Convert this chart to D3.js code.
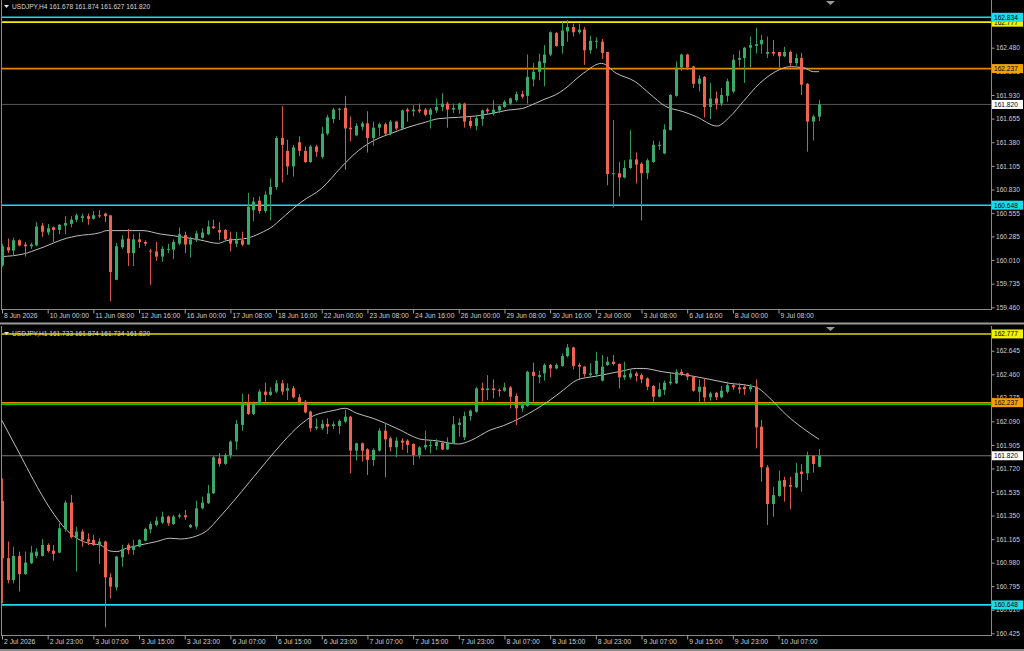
<!DOCTYPE html>
<html><head><meta charset="utf-8">
<script src="https://cdn.jsdelivr.net/npm/d3@7"></script>
<style>
html,body{margin:0;padding:0;background:#000;overflow:hidden}
svg{display:block}
text{font-family:"Liberation Sans",Arial,sans-serif}
</style></head>
<body>
<svg id="c" width="1024" height="651"></svg>
<script>
// ---------------- DATA ----------------
const h4Title = "USDJPY,H4  161.678 161.874 161.627 161.820";
const h1Title = "USDJPY,H1  161.733 161.874 161.734 161.820";

// H4 candles: [open, high, low, close]
const h4Ohlc = [
[159.95,160.20,159.93,160.17],[160.16,160.26,160.09,160.12],[160.12,160.27,160.06,160.24],[160.24,160.25,160.17,160.18],
[160.19,160.22,160.05,160.17],[160.17,160.21,160.14,160.19],[160.18,160.45,160.17,160.40],[160.41,160.44,160.28,160.34],
[160.33,160.43,160.30,160.38],[160.39,160.40,160.22,160.36],[160.36,160.43,160.31,160.42],[160.41,160.52,160.31,160.44],
[160.43,160.52,160.39,160.48],[160.48,160.55,160.45,160.53],[160.50,160.55,160.45,160.52],[160.52,160.55,160.42,160.49],
[160.49,160.58,160.48,160.53],[160.53,160.59,160.50,160.52],[160.55,160.56,160.45,160.52],[160.53,160.53,159.53,159.87],
[159.78,160.21,159.78,160.17],[160.16,160.30,160.14,160.25],[160.26,160.37,159.94,160.09],[160.09,160.31,159.94,160.25],
[160.25,160.33,160.15,160.22],[160.22,160.24,160.17,160.20],[160.12,160.14,159.72,160.11],[160.11,160.22,160.00,160.05],
[160.05,160.17,159.99,160.14],[160.13,160.20,160.09,160.14],[160.13,160.25,160.02,160.22],[160.20,160.39,160.18,160.31],
[160.30,160.34,160.09,160.19],[160.19,160.28,160.04,160.25],[160.24,160.35,160.22,160.32],[160.27,160.38,160.26,160.33],
[160.31,160.47,160.30,160.40],[160.40,160.48,160.37,160.38],[160.36,160.45,160.24,160.33],[160.36,160.37,160.24,160.25],
[160.26,160.34,160.11,160.20],[160.20,160.34,160.16,160.24],[160.24,160.34,160.17,160.19],[160.19,160.79,160.19,160.63],
[160.59,160.74,160.46,160.69],[160.70,160.75,160.55,160.58],[160.58,160.81,160.56,160.77],[160.77,160.96,160.47,160.86],
[160.86,161.45,160.83,161.43],[161.43,161.80,160.91,161.35],[161.28,161.41,161.00,161.10],[161.10,161.35,160.98,161.32],
[161.38,161.45,161.22,161.28],[161.28,161.33,161.14,161.15],[161.15,161.35,161.14,161.33],[161.33,161.35,161.21,161.27],
[161.21,161.56,161.19,161.48],[161.48,161.70,161.46,161.67],[161.65,161.78,161.60,161.76],[161.76,161.78,161.64,161.77],
[161.78,161.92,161.06,161.54],[161.55,161.68,161.39,161.53],[161.46,161.60,161.45,161.57],[161.56,161.62,161.52,161.60],
[161.60,161.74,161.26,161.43],[161.43,161.62,161.34,161.55],[161.55,161.61,161.45,161.59],[161.59,161.61,161.46,161.48],
[161.48,161.64,161.46,161.62],[161.62,161.63,161.52,161.54],[161.54,161.76,161.53,161.75],[161.76,161.78,161.62,161.74],
[161.74,161.81,161.68,161.76],[161.76,161.83,161.72,161.74],[161.76,161.78,161.68,161.70],[161.70,161.78,161.54,161.76],
[161.75,161.89,161.72,161.79],[161.79,161.95,161.74,161.83],[161.83,161.85,161.55,161.76],[161.76,161.83,161.72,161.78],
[161.76,161.84,161.71,161.83],[161.83,161.84,161.55,161.62],[161.63,161.68,161.54,161.57],[161.57,161.70,161.52,161.66],
[161.65,161.76,161.57,161.75],[161.76,161.78,161.71,161.74],[161.71,161.87,161.69,161.76],[161.75,161.81,161.72,161.80],
[161.79,161.87,161.78,161.85],[161.83,161.90,161.81,161.89],[161.87,161.97,161.85,161.94],[161.94,161.98,161.89,161.91],
[161.92,162.40,161.83,162.14],[162.11,162.30,162.03,162.20],[162.20,162.41,162.10,162.32],[162.30,162.51,162.03,162.40],
[162.40,162.67,162.38,162.66],[162.65,162.66,162.49,162.50],[162.50,162.78,162.41,162.68],[162.67,162.80,162.55,162.72],
[162.72,162.76,162.61,162.66],[162.66,162.76,162.64,162.69],[162.69,162.72,162.28,162.45],[162.45,162.62,162.41,162.56],
[162.55,162.60,162.47,162.56],[162.55,162.58,162.35,162.42],[162.43,162.43,160.88,161.01],[161.015,161.64,160.62,161.02],
[161.02,161.15,160.75,160.97],[160.97,161.17,160.96,161.08],[161.08,161.52,161.07,161.18],[161.18,161.26,160.90,161.12],
[161.13,161.15,160.47,161.02],[161.02,161.19,160.95,161.17],[161.15,161.40,161.14,161.35],[161.345,161.39,161.29,161.35],
[161.25,161.59,161.24,161.53],[161.52,161.94,161.52,161.93],[161.92,162.32,161.91,162.25],[162.25,162.41,162.21,162.40],
[162.40,162.41,162.22,162.25],[162.26,162.27,162.01,162.06],[162.06,162.16,161.97,162.12],[162.14,162.15,161.67,161.79],
[161.79,162.07,161.65,161.89],[161.89,161.97,161.76,161.83],[161.83,162.01,161.80,161.93],[161.92,162.12,161.85,162.09],
[161.97,162.40,161.95,162.34],[162.34,162.45,162.26,162.36],[162.36,162.49,162.07,162.48],[162.48,162.61,162.25,162.51],
[162.50,162.71,162.41,162.52],[162.52,162.63,162.41,162.57],[162.41,162.61,162.36,162.43],[162.43,162.57,162.38,162.41],
[162.43,162.43,162.25,162.38],[162.38,162.49,162.37,162.43],[162.43,162.45,162.26,162.30],[162.30,162.41,162.27,162.36],
[162.36,162.42,161.93,162.05],[162.06,162.07,161.27,161.62],[161.62,161.70,161.40,161.68],[161.678,161.874,161.627,161.820]
];

// H4 moving average read at bar positions: [bar, value]
const h4Ma = [
[0,160.05],[3.7,160.08],[6.7,160.146],[11.3,160.263],[13.1,160.29],[17.2,160.328],[18.3,160.352],[24.7,160.352],
[27.7,160.313],[30,160.293],[34.7,160.243],[37.9,160.204],[39.3,160.235],[42.9,160.263],[45.2,160.321],[47.5,160.406],
[48.7,160.476],[52.5,160.689],[56,160.844],[59.5,161.096],[62.4,161.282],[65.3,161.406],[68.2,161.484],[71.1,161.554],
[74.1,161.612],[76.4,161.654],[79.9,161.670],[82.9,161.685],[85.8,161.716],[88.7,161.755],[91,161.771],[93.4,161.833],
[95.1,161.883],[96.9,161.930],[98.3,161.988],[101.8,162.182],[105,162.298],[107.6,162.182],[110.9,162.085],[113.5,161.941],
[116.1,161.802],[119.3,161.736],[121.6,161.678],[125.2,161.569],[127.5,161.678],[129.8,161.852],[132.7,162.065],
[136.3,162.228],[138,162.259],[140.4,162.248],[142.1,162.201],[143.1,162.201]
];

// H1 candles: [open, high, low, close]
const h1Ohlc = [
[161.465,161.643,160.661,161.015],[161.015,161.146,160.818,160.844],[160.844,161.106,160.818,161.033],[161.033,161.067,160.753,160.891],
[160.891,161.067,160.884,160.981],[160.975,161.112,160.970,161.059],[161.033,161.093,161.015,161.067],[161.033,161.164,161.028,161.119],
[161.119,161.132,161.059,161.072],[161.075,161.119,160.996,161.049],[161.059,161.290,161.054,161.250],[161.244,161.468,161.224,161.452],
[161.452,161.512,161.172,161.180],[161.177,161.263,160.910,161.224],[161.224,161.242,161.106,161.159],[161.164,161.211,161.119,161.146],
[161.159,161.198,161.112,161.119],[161.119,161.172,160.970,161.146],[161.146,161.153,160.472,160.865],[160.865,160.897,160.700,160.792],
[160.786,161.033,160.761,161.028],[161.022,161.119,160.949,161.085],[161.119,161.132,161.046,161.080],[161.080,161.159,161.041,161.112],
[161.106,161.164,161.101,161.159],[161.153,161.255,161.146,161.245],[161.242,161.303,161.211,161.284],[161.276,161.342,161.263,161.310],
[161.295,161.381,161.284,161.342],[161.342,161.350,161.269,161.290],[161.284,161.355,161.276,161.342],[161.342,161.368,161.329,161.352],
[161.352,161.394,161.316,161.337],[161.258,161.284,161.250,161.276],[161.263,161.468,161.242,161.407],[161.407,161.499,161.399,161.452],
[161.447,161.591,161.441,161.525],[161.525,161.818,161.520,161.808],[161.800,161.839,161.735,161.756],[161.756,161.839,161.748,161.826],
[161.826,161.939,161.800,161.931],[161.931,162.101,161.866,162.070],[162.062,162.305,162.017,162.232],[162.232,162.305,162.141,162.148],
[162.148,162.245,162.141,162.232],[162.232,162.342,162.227,162.324],[162.324,162.394,162.245,162.298],[162.298,162.358,162.290,162.324],
[162.324,162.415,162.311,162.389],[162.389,162.415,162.298,162.324],[162.332,162.389,162.258,162.350],[162.350,162.368,162.271,162.279],
[162.279,162.305,162.219,162.240],[162.245,162.258,162.154,162.161],[162.167,162.175,162.010,162.036],[162.036,162.114,162.023,162.049],
[162.036,162.101,162.023,162.070],[162.070,162.114,161.991,162.049],[162.054,162.088,162.028,162.067],[162.054,162.106,161.991,162.093],
[162.088,162.180,162.075,162.127],[162.127,162.133,161.682,161.860],[161.860,161.923,161.782,161.918],[161.918,161.923,161.774,161.860],
[161.871,161.879,161.669,161.787],[161.787,161.879,161.740,161.866],[161.860,162.036,161.853,162.017],[162.017,162.075,161.651,161.949],
[161.957,161.970,161.853,161.887],[161.887,161.965,161.808,161.939],[161.939,161.957,161.866,161.923],[161.939,161.949,161.840,161.905],
[161.913,161.918,161.748,161.826],[161.826,161.896,161.799,161.886],[161.886,162.017,161.865,161.904],[161.896,161.943,161.839,161.904],
[161.896,161.949,161.865,161.928],[161.922,161.930,161.865,161.870],[161.870,161.964,161.865,161.922],[161.917,162.132,161.912,162.067],
[162.062,162.114,161.970,162.080],[161.964,162.166,161.943,162.132],[162.132,162.184,162.095,162.174],[162.166,162.362,162.158,162.349],
[162.349,162.394,162.245,162.336],[162.336,162.454,162.258,162.349],[162.349,162.420,162.271,162.336],[162.336,162.349,162.284,162.328],
[162.331,162.394,162.323,162.357],[162.357,162.368,162.192,162.284],[162.289,162.310,162.061,162.192],[162.192,162.245,162.166,162.218],
[162.211,162.488,162.205,162.480],[162.480,162.551,162.245,162.446],[162.438,162.488,162.389,162.454],[162.467,162.546,162.410,162.533],
[162.533,162.541,162.436,162.506],[162.506,162.546,162.499,162.533],[162.525,162.624,162.520,162.603],[162.603,162.698,162.593,162.671],
[162.671,162.677,162.499,162.525],[162.533,162.551,162.420,162.520],[162.520,162.525,162.441,162.462],[162.454,162.546,162.436,162.467],
[162.462,162.637,162.436,162.567],[162.410,162.611,162.404,162.520],[162.533,162.598,162.525,162.559],[162.559,162.611,162.530,162.541],
[162.541,162.546,162.349,162.436],[162.436,162.559,162.415,162.454],[162.436,162.493,162.420,162.467],[162.467,162.480,162.402,162.446],
[162.454,162.467,162.389,162.420],[162.428,162.436,162.336,162.362],[162.368,162.375,162.245,162.284],[162.284,162.394,162.279,162.342],
[162.336,162.410,162.297,162.394],[162.389,162.467,162.375,162.402],[162.389,162.499,162.383,162.480],[162.480,162.499,162.446,162.462],
[162.467,162.472,162.415,162.441],[162.441,162.446,162.323,162.331],[162.323,162.420,162.245,162.362],[162.362,162.428,162.245,162.279],
[162.279,162.323,162.252,162.310],[162.315,162.323,162.258,162.279],[162.279,162.368,162.271,162.331],[162.323,162.402,162.310,162.375],
[162.375,162.394,162.336,162.357],[162.357,162.389,162.310,162.342],[162.362,162.375,162.297,162.342],[162.342,162.383,162.323,162.362],
[162.362,162.420,161.878,162.043],[162.048,162.101,161.616,161.729],[161.729,161.747,161.276,161.441],[161.441,161.577,161.341,161.511],
[161.504,161.703,161.498,161.624],[161.629,161.655,161.459,161.577],[161.590,161.655,161.399,161.577],[161.572,161.765,161.564,161.687],
[161.695,161.755,161.537,161.676],[161.682,161.852,161.629,161.826],[161.818,161.826,161.687,161.755],[161.733,161.874,161.733,161.820]
];

// H1 moving average read at bar positions: [bar, value]
const h1Ma = [
[0,162.096],[3.2,161.826],[5.5,161.630],[8.4,161.407],[11.3,161.237],[14.2,161.146],[16,161.127],[17.2,161.119],
[18.9,161.072],[20.1,161.067],[21.8,161.093],[24.2,161.119],[27.1,161.146],[29.4,161.172],[31.2,161.166],[34.1,161.190],
[35.8,161.229],[38.2,161.342],[40.5,161.460],[43.4,161.617],[46.3,161.774],[49.3,161.931],[52.2,162.062],[54.5,162.133],
[56.3,162.159],[58,162.175],[60.1,162.193],[62.1,162.154],[65,162.114],[67.4,162.070],[69.7,162.023],[72.3,161.965],
[73.2,161.951],[76.1,161.938],[79.9,161.912],[82,161.938],[85.5,162.022],[87.8,162.056],[91,162.122],[93.3,162.179],
[96,162.258],[98.3,162.336],[100.7,162.415],[104.1,162.446],[106.5,162.467],[108.8,162.488],[111.1,162.506],[112.3,162.506],
[115.7,162.480],[119.9,162.454],[124,162.420],[127.5,162.389],[131,162.370],[132.5,162.349],[134.5,162.271],[137.4,162.140],
[140.3,162.035],[143.1,161.949]
];

// time-axis labels (every 8 bars)
const h4DateLabels = ["8 Jun 2026","10 Jun 00:00","11 Jun 08:00","12 Jun 16:00","16 Jun 00:00","17 Jun 08:00","18 Jun 16:00",
 "22 Jun 00:00","23 Jun 08:00","24 Jun 16:00","26 Jun 00:00","29 Jun 08:00","30 Jun 16:00","2 Jul 00:00","3 Jul 08:00",
 "6 Jul 16:00","8 Jul 00:00","9 Jul 08:00"];
const h1DateLabels = ["2 Jul 2026","2 Jul 23:00","3 Jul 07:00","3 Jul 15:00","3 Jul 23:00","6 Jul 07:00","6 Jul 15:00",
 "6 Jul 23:00","7 Jul 07:00","7 Jul 15:00","7 Jul 23:00","8 Jul 07:00","8 Jul 15:00","8 Jul 23:00","9 Jul 07:00",
 "9 Jul 15:00","9 Jul 23:00","10 Jul 07:00"];

// price-axis tick labels
const h4PriceTicks = ["162.480","162.205","161.930","161.655","161.380","161.105","160.830","160.555","160.285","160.010","159.735","159.460"];
const h1PriceTicks = ["162.645","162.460","162.275","162.090","161.905","161.720","161.535","161.350","161.165","160.980","160.795","160.610","160.425"];

// horizontal levels: [price, colour]
const h4Levels = [[162.777,"#f0f000"],[162.834,"#19dceb"],[162.237,"#e08a00"],[160.648,"#19dceb"]];
const h1Levels = [[162.777,"#d8d800"],[162.225,"#00c800"],[162.237,"#e08a00"],[160.648,"#19dceb"]];
const bidPrice = 161.820;

// ---------------- DRAW ----------------
const svg = d3.select("#c");
const BULL = "#3aaa6a", BEAR = "#f0644e";
const AX = 991; // price axis x

function panel(cfg) {
  const g = svg.append("g");
  const x = d3.scaleLinear().domain([0, 143]).range([2, 818.5]);
  const y = d3.scaleLinear().domain(cfg.domain).range(cfg.range);
  const clipId = "clip" + cfg.id;
  svg.append("clipPath").attr("id", clipId).append("rect")
    .attr("x", 2).attr("y", cfg.top).attr("width", AX - 2).attr("height", cfg.bottom - cfg.top);
  const plot = g.append("g").attr("clip-path", `url(#${clipId})`);

  // bid line
  plot.append("line").attr("x1", 0).attr("x2", AX).attr("y1", y(bidPrice)).attr("y2", y(bidPrice))
    .attr("stroke", cfg.bidColor).attr("stroke-width", 1);
  // levels
  cfg.levels.forEach(([p, col]) => {
    plot.append("line").attr("x1", 0).attr("x2", AX).attr("y1", y(p)).attr("y2", y(p))
      .attr("stroke", col).attr("stroke-width", 1.6);
  });

  // MA
  plot.append("path").datum(cfg.ma)
    .attr("d", d3.line().x(d => x(d[0])).y(d => y(d[1])).curve(d3.curveMonotoneX))
    .attr("fill", "none").attr("stroke", "#bdbdbd").attr("stroke-width", 1);

  // candles
  const c = plot.selectAll("g.c").data(cfg.data).join("g").attr("class", "c");
  c.append("line")
    .attr("x1", (d, i) => Math.round(x(i)) + 0.5).attr("x2", (d, i) => Math.round(x(i)) + 0.5)
    .attr("y1", d => y(d[1])).attr("y2", d => y(d[2]))
    .attr("stroke", d => d[3] >= d[0] ? "#2f9a5c" : "#d95744").attr("stroke-width", 1);
  c.append("rect")
    .attr("x", (d, i) => Math.round(x(i)) - 1).attr("width", 3)
    .attr("y", d => y(Math.max(d[0], d[3])))
    .attr("height", d => Math.max(1, Math.abs(y(d[0]) - y(d[3]))))
    .attr("fill", d => d[3] >= d[0] ? BULL : BEAR);

  // frame
  g.append("line").attr("x1", 1.5).attr("x2", 1.5).attr("y1", cfg.top).attr("y2", cfg.bottom).attr("stroke", "#8a8a8a");
  g.append("line").attr("x1", AX + 0.5).attr("x2", AX + 0.5).attr("y1", cfg.top).attr("y2", cfg.bottom).attr("stroke", "#8a8a8a");
  g.append("line").attr("x1", 1).attr("x2", AX + 1).attr("y1", cfg.bottom + 0.5).attr("y2", cfg.bottom + 0.5).attr("stroke", "#8a8a8a");

  // title
  g.append("path").attr("d", `M4,${cfg.titleY - 2}h5l-2.5,3z`).attr("fill", "#e0e0e0");
  g.append("text").attr("x", 12).attr("y", cfg.titleY + 2.3).attr("fill", "#d8d8d8")
    .attr("font-size", 6.6).text(cfg.title);
  // shift marker
  g.append("path").attr("d", `M826,${cfg.top + 1}h9l-4.5,4z`).attr("fill", "#9a9a9a");

  // price axis
  const yAxis = d3.axisRight(y).tickValues(cfg.ticks.map(Number)).tickFormat(d3.format(".3f"))
    .tickSize(3).tickSizeOuter(0).tickPadding(1.5);
  const ya = g.append("g").attr("transform", `translate(${AX + 0.5},0)`).call(yAxis);
  ya.select(".domain").remove();
  ya.selectAll("line").attr("stroke", "#a0a0a0");
  ya.selectAll("text").attr("fill", "#cfcfcf").attr("font-size", 6.6)
    .attr("font-family", "Liberation Sans, Arial, sans-serif");

  // time axis
  const idx = cfg.dates.map((d, k) => k * 8);
  const xAxis = d3.axisBottom(x).tickValues(idx).tickFormat((d, k) => cfg.dates[k]).tickSize(4).tickSizeOuter(0);
  const xa = g.append("g").attr("transform", `translate(0,${cfg.bottom + 0.5})`).call(xAxis);
  xa.select(".domain").remove();
  xa.selectAll("line").attr("stroke", "#a0a0a0");
  xa.selectAll("text").attr("fill", "#cfcfcf").attr("font-size", 6.8).attr("text-anchor", "start")
    .attr("dx", 1.5).attr("dy", 0).attr("y", 8.8)
    .attr("font-family", "Liberation Sans, Arial, sans-serif");

  // price labels
  const lbl = (p, bg) => {
    const yy = y(p);
    g.append("rect").attr("x", AX + 1).attr("y", yy - 4.5).attr("width", 31).attr("height", 9).attr("fill", bg);
    g.append("text").attr("x", AX + 3).attr("y", yy + 2.4).attr("fill", "#000").attr("font-size", 6.6)
      .text(d3.format(".3f")(p));
  };
  cfg.levels.filter(l => l[1] !== "#00c800").forEach(([p, col]) => lbl(p, col === "#e08a00" ? "#f5a000" : (col === "#d8d800" ? "#f0f000" : col)));
  lbl(bidPrice, "#ffffff");
}

panel({ id: 1, data: h4Ohlc, ma: h4Ma, domain: [159.46, 162.48], range: [307.3, 47.7], top: 0, bottom: 309,
  levels: h4Levels, ticks: h4PriceTicks, dates: h4DateLabels, title: h4Title, titleY: 7, bidColor: "#555" });
panel({ id: 2, data: h1Ohlc, ma: h1Ma, domain: [160.425, 162.46], range: [633.3, 374.3], top: 326, bottom: 635,
  levels: h1Levels, ticks: h1PriceTicks, dates: h1DateLabels, title: h1Title, titleY: 334, bidColor: "#777" });

// panel separator & window bottom
svg.append("rect").attr("x", 0).attr("y", 322.5).attr("width", 1024).attr("height", 2).attr("fill", "#9a9a9a");
svg.append("rect").attr("x", 0).attr("y", 649).attr("width", 1024).attr("height", 2).attr("fill", "#8a8a8a");
</script>
</body></html>
